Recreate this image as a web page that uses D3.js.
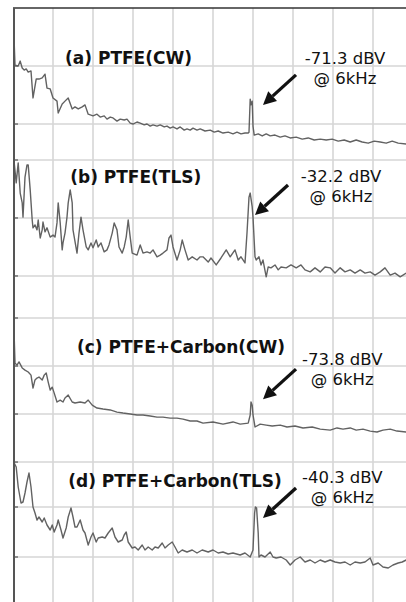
<!DOCTYPE html>
<html>
<head>
<meta charset="utf-8">
<script src="https://cdn.jsdelivr.net/npm/d3@7"></script>
<style>
  html, body { margin: 0; padding: 0; background: #fff; }
  svg { display: block; }
</style>
</head>
<body>
<div id="chart"></div>
<script>
// frequency grid (kHz) and per-panel dBV grids
const freqTicks = [1, 2, 3, 4, 5, 6, 7, 8, 9];
const panelNames = ['(a) PTFE(CW)', '(b) PTFE(TLS)', '(c) PTFE+Carbon(CW)', '(d) PTFE+Carbon(TLS)'];
const peakLabels = ['-71.3 dBV', '-32.2 dBV', '-73.8 dBV', '-40.3 dBV'];
const peakFreqLabel = '@ 6kHz';
const dbRanges = [[-40, -92.4], [-20, -74.5], [-40, -100.4], [-22.4, -78.0]];
const dbGrid = [[-60, -80], [-20, -40, -60], [-40, -60, -80, -100], [-40, -60]];
const arrowTips = [[6.25, -73.4], [6.05, -39.0], [6.25, -73.8], [6.25, -44.4]];
const noteAnchors = [[8.30, -59.3], [8.20, -27.6], [8.23, -59.6], [8.23, -30.4]];
const titleAnchors = [[1.30, -59.3], [1.43, -27.9], [1.60, -54.6], [1.38, -32.0]];

// spectra, [kHz, dBV]
const traceA = [
  [0.03,-52.1],[0.05,-59.7],[0.13,-60.0],[0.18,-58.3],[0.23,-60.7],[0.28,-61.4],[0.33,-61.0],[0.38,-62.1],
  [0.45,-61.7],[0.50,-71.0],[0.58,-64.5],[0.65,-64.5],[0.73,-64.1],[0.80,-62.8],[0.85,-67.6],[0.93,-67.9],
  [1.00,-71.0],[1.10,-72.1],[1.13,-76.2],[1.23,-73.1],[1.30,-72.1],[1.38,-71.0],[1.48,-74.8],[1.55,-74.1],
  [1.63,-74.8],[1.73,-74.1],[1.80,-73.4],[1.88,-76.6],[2.00,-77.2],[2.10,-76.6],[2.18,-77.6],[2.28,-77.2],
  [2.35,-78.3],[2.43,-77.6],[2.50,-77.9],[2.60,-79.0],[2.68,-78.3],[2.78,-78.6],[2.85,-78.3],[2.93,-79.7],
  [3.00,-80.0],[3.10,-79.3],[3.18,-79.7],[3.28,-80.3],[3.35,-80.0],[3.43,-80.7],[3.50,-80.3],[3.60,-80.7],
  [3.68,-80.3],[3.78,-81.0],[3.85,-80.7],[3.93,-81.4],[4.00,-81.0],[4.10,-81.7],[4.18,-81.0],[4.28,-82.1],
  [4.35,-81.7],[4.43,-82.1],[4.50,-81.4],[4.60,-82.1],[4.68,-81.7],[4.80,-82.4],[4.93,-82.1],[5.03,-82.8],
  [5.13,-82.4],[5.25,-83.1],[5.38,-82.8],[5.50,-83.4],[5.60,-82.8],[5.70,-83.4],[5.80,-83.1],[5.88,-83.1],
  [5.90,-82.8],[5.93,-71.4],[5.95,-73.4],[5.98,-72.1],[6.00,-80.7],[6.03,-83.8],[6.13,-83.4],[6.23,-84.1],
  [6.33,-83.4],[6.43,-84.1],[6.55,-83.8],[6.68,-84.5],[6.80,-84.1],[6.93,-84.8],[7.08,-84.5],[7.23,-85.2],
  [7.38,-84.8],[7.53,-85.5],[7.68,-85.2],[7.83,-85.5],[7.98,-85.2],[8.13,-85.9],[8.28,-85.5],[8.43,-86.2],
  [8.58,-85.5],[8.73,-86.2],[8.88,-86.6],[9.03,-85.9],[9.18,-86.2],[9.33,-86.6],[9.48,-85.9],[9.63,-86.6],
  [9.83,-86.9]
];
const traceB = [
  [0.03,-21.0],[0.08,-27.9],[0.13,-21.0],[0.18,-31.4],[0.23,-34.8],[0.25,-39.7],[0.30,-25.9],[0.35,-21.7],
  [0.38,-21.7],[0.43,-30.3],[0.48,-40.7],[0.50,-43.4],[0.55,-42.4],[0.60,-44.1],[0.63,-40.7],[0.68,-46.9],
  [0.73,-44.1],[0.75,-41.4],[0.80,-44.8],[0.85,-43.4],[0.93,-46.6],[1.00,-45.9],[1.05,-46.6],[1.10,-41.7],
  [1.13,-34.8],[1.18,-41.7],[1.23,-51.0],[1.25,-48.6],[1.30,-45.2],[1.35,-39.7],[1.38,-34.8],[1.43,-30.3],
  [1.48,-34.8],[1.50,-44.1],[1.60,-52.1],[1.65,-45.2],[1.70,-39.7],[1.75,-44.1],[1.83,-50.0],[1.88,-51.0],
  [1.95,-48.6],[2.00,-50.3],[2.08,-47.6],[2.13,-50.0],[2.20,-48.6],[2.28,-51.7],[2.35,-51.0],[2.40,-49.3],
  [2.48,-45.2],[2.53,-41.7],[2.60,-44.1],[2.65,-50.0],[2.73,-52.1],[2.78,-50.0],[2.83,-46.6],[2.88,-40.7],
  [2.93,-46.6],[2.98,-52.1],[3.10,-52.8],[3.18,-49.3],[3.25,-52.1],[3.35,-51.7],[3.43,-52.1],[3.50,-51.0],
  [3.60,-53.4],[3.68,-52.8],[3.75,-52.1],[3.85,-51.0],[3.90,-46.9],[3.95,-45.9],[4.00,-50.0],[4.10,-54.5],
  [4.18,-51.0],[4.23,-47.6],[4.30,-51.0],[4.38,-54.5],[4.48,-53.4],[4.60,-54.5],[4.68,-53.4],[4.75,-53.4],
  [4.88,-55.2],[4.95,-53.8],[5.08,-56.2],[5.20,-53.8],[5.33,-51.0],[5.43,-53.4],[5.55,-51.0],[5.63,-54.5],
  [5.70,-53.4],[5.80,-55.5],[5.85,-45.2],[5.90,-32.8],[5.93,-31.4],[5.98,-36.2],[6.00,-39.7],[6.05,-53.4],
  [6.08,-54.5],[6.15,-53.4],[6.20,-56.2],[6.25,-54.5],[6.33,-60.3],[6.38,-56.9],[6.45,-57.2],[6.55,-56.2],
  [6.63,-57.9],[6.70,-56.9],[6.83,-57.2],[6.95,-56.2],[7.08,-57.2],[7.20,-56.2],[7.30,-57.9],[7.43,-58.6],
  [7.55,-57.2],[7.68,-58.6],[7.80,-56.9],[7.93,-57.2],[8.05,-59.0],[8.18,-57.2],[8.30,-58.6],[8.43,-57.9],
  [8.55,-59.0],[8.68,-57.9],[8.80,-59.0],[8.93,-58.6],[9.05,-59.7],[9.18,-58.6],[9.30,-57.2],[9.43,-59.7],
  [9.55,-59.0],[9.68,-60.3],[9.83,-59.0]
];
const traceC = [
  [0.03,-47.9],[0.05,-58.8],[0.10,-59.6],[0.15,-58.3],[0.23,-60.8],[0.30,-61.7],[0.38,-62.5],[0.45,-63.8],
  [0.50,-69.2],[0.55,-65.8],[0.60,-65.0],[0.65,-64.6],[0.73,-65.8],[0.78,-63.8],[0.83,-62.9],[0.88,-66.7],
  [0.93,-70.0],[0.98,-68.8],[1.03,-71.3],[1.10,-75.0],[1.18,-74.2],[1.25,-75.0],[1.30,-73.3],[1.38,-72.1],
  [1.48,-75.0],[1.55,-75.4],[1.68,-75.0],[1.80,-75.4],[1.88,-74.2],[1.98,-76.3],[2.10,-77.5],[2.25,-77.9],
  [2.43,-78.3],[2.60,-79.2],[2.75,-79.6],[2.93,-80.0],[3.10,-80.4],[3.25,-80.4],[3.43,-80.8],[3.60,-81.3],
  [3.75,-81.3],[3.93,-81.7],[4.10,-81.7],[4.25,-82.1],[4.43,-82.9],[4.60,-82.9],[4.75,-83.8],[5.00,-83.3],
  [5.25,-84.2],[5.50,-83.3],[5.68,-84.2],[5.88,-83.8],[5.93,-80.4],[5.95,-75.0],[5.98,-76.3],[6.00,-80.4],
  [6.05,-85.4],[6.18,-84.2],[6.33,-84.6],[6.48,-85.0],[6.68,-84.6],[6.85,-85.4],[7.05,-85.0],[7.25,-85.8],
  [7.48,-85.4],[7.68,-86.3],[7.93,-86.7],[8.10,-85.8],[8.25,-86.3],[8.43,-85.8],[8.58,-86.7],[8.75,-86.3],
  [8.93,-87.1],[9.10,-87.5],[9.25,-86.7],[9.43,-86.3],[9.60,-87.1],[9.83,-87.5]
];
const traceD = [
  [0.03,-22.4],[0.08,-24.0],[0.13,-32.0],[0.20,-38.4],[0.25,-38.0],[0.30,-34.4],[0.35,-30.0],[0.40,-26.4],
  [0.45,-32.0],[0.50,-40.0],[0.55,-42.4],[0.60,-45.2],[0.65,-44.0],[0.73,-46.0],[0.78,-44.4],[0.85,-47.2],
  [0.93,-49.2],[0.98,-47.2],[1.03,-50.0],[1.10,-47.2],[1.13,-45.2],[1.20,-49.2],[1.25,-52.4],[1.33,-48.4],
  [1.38,-44.0],[1.45,-40.4],[1.50,-44.0],[1.55,-48.0],[1.60,-48.0],[1.68,-45.2],[1.75,-49.2],[1.80,-50.4],
  [1.88,-55.2],[1.95,-52.0],[2.00,-50.4],[2.08,-54.0],[2.13,-52.4],[2.23,-52.0],[2.30,-52.4],[2.38,-50.4],
  [2.48,-48.4],[2.55,-52.0],[2.63,-54.0],[2.73,-53.2],[2.78,-51.2],[2.83,-50.0],[2.88,-54.0],[2.98,-56.4],
  [3.05,-56.0],[3.13,-57.2],[3.23,-55.2],[3.30,-57.2],[3.38,-56.0],[3.48,-57.2],[3.55,-56.0],[3.63,-56.4],
  [3.73,-54.4],[3.80,-56.4],[3.88,-55.2],[3.98,-54.0],[4.05,-56.0],[4.13,-58.4],[4.23,-57.2],[4.35,-58.0],
  [4.48,-57.2],[4.60,-58.4],[4.73,-57.2],[4.88,-58.0],[5.00,-57.2],[5.13,-58.4],[5.25,-58.0],[5.38,-58.8],
  [5.50,-58.4],[5.68,-59.2],[5.80,-58.4],[5.93,-60.0],[6.00,-57.2],[6.04,-42.4],[6.06,-40.0],[6.09,-40.4],
  [6.13,-50.4],[6.15,-60.0],[6.20,-59.2],[6.30,-60.0],[6.43,-58.0],[6.50,-60.0],[6.58,-60.4],[6.70,-60.0],
  [6.83,-61.2],[6.93,-63.2],[7.05,-61.2],[7.18,-60.0],[7.30,-62.0],[7.43,-61.2],[7.55,-62.4],[7.68,-61.2],
  [7.80,-62.0],[7.93,-61.2],[8.05,-62.0],[8.18,-62.4],[8.30,-62.0],[8.43,-63.2],[8.55,-62.0],[8.68,-62.4],
  [8.80,-62.0],[8.93,-60.4],[9.00,-63.2],[9.13,-62.4],[9.25,-64.0],[9.38,-64.4],[9.50,-63.2],[9.63,-62.4],
  [9.73,-62.0],[9.83,-61.2]
];
const traces = [traceA, traceB, traceC, traceD];

const width = 406;
const height = 602;
const plotLeft = 13;
const plotTop = 8;
const bands = [[8, 160], [160, 318], [318, 463], [463, 602]];

const svg = d3.select('#chart')
  .append('svg')
  .attr('width', width)
  .attr('height', height);

const x = d3.scaleLinear().domain([0, 9.825]).range([plotLeft, width]);

// vertical grid
svg.append('g')
  .selectAll('line')
  .data(freqTicks)
  .join('line')
  .attr('x1', d => x(d))
  .attr('x2', d => x(d))
  .attr('y1', plotTop)
  .attr('y2', height)
  .attr('stroke', '#d6d6d6')
  .attr('stroke-width', 1.6);

const fontFamily = '"DejaVu Sans", sans-serif';

traces.forEach((trace, i) => {
  const y = d3.scaleLinear().domain(dbRanges[i]).range(bands[i]);
  const g = svg.append('g');

  g.selectAll('line.h')
    .data(dbGrid[i])
    .join('line')
    .attr('class', 'h')
    .attr('x1', plotLeft)
    .attr('x2', width)
    .attr('y1', d => y(d))
    .attr('y2', d => y(d))
    .attr('stroke', '#d6d6d6')
    .attr('stroke-width', 1.6);

  // small ticks on the left axis
  g.selectAll('line.t')
    .data(dbGrid[i])
    .join('line')
    .attr('class', 't')
    .attr('x1', plotLeft)
    .attr('x2', plotLeft + 5)
    .attr('y1', d => y(d))
    .attr('y2', d => y(d))
    .attr('stroke', '#555')
    .attr('stroke-width', 1.2);

  const line = d3.line()
    .x(d => x(d[0]))
    .y(d => y(d[1]));

  g.append('path')
    .datum(trace)
    .attr('d', line)
    .attr('fill', 'none')
    .attr('stroke', '#626262')
    .attr('stroke-width', 1.4)
    .attr('stroke-linejoin', 'round');

  g.append('text')
    .attr('x', x(titleAnchors[i][0]))
    .attr('y', y(titleAnchors[i][1]))
    .attr('font-family', fontFamily)
    .attr('font-weight', 'bold')
    .attr('font-size', 17)
    .attr('fill', '#111')
    .text(panelNames[i]);

  const nx = x(noteAnchors[i][0]);
  const ny = y(noteAnchors[i][1]);
  g.append('text')
    .attr('x', nx)
    .attr('y', ny)
    .attr('text-anchor', 'middle')
    .attr('font-family', fontFamily)
    .attr('font-size', 16.5)
    .attr('fill', '#111')
    .text(peakLabels[i]);
  g.append('text')
    .attr('x', nx)
    .attr('y', ny + 20)
    .attr('text-anchor', 'middle')
    .attr('font-family', fontFamily)
    .attr('font-size', 16.5)
    .attr('fill', '#111')
    .text(peakFreqLabel);

  // arrow pointing at the 6 kHz peak
  const tx = x(arrowTips[i][0]);
  const ty = y(arrowTips[i][1]);
  const sx = tx + 33, sy = ty - 30;
  const len = Math.hypot(sx - tx, sy - ty);
  const ux = (sx - tx) / len, uy = (sy - ty) / len;
  const headL = 13, headW = 6.5;
  const bx = tx + ux * headL, by = ty + uy * headL;
  g.append('line')
    .attr('x1', sx).attr('y1', sy)
    .attr('x2', bx).attr('y2', by)
    .attr('stroke', '#111')
    .attr('stroke-width', 3.3);
  g.append('path')
    .attr('d', `M${tx},${ty}L${bx - uy * headW},${by + ux * headW}L${bx + uy * headW},${by - ux * headW}Z`)
    .attr('fill', '#111');
});

// frame: top border and left axis
svg.append('line')
  .attr('x1', plotLeft).attr('x2', width)
  .attr('y1', plotTop).attr('y2', plotTop)
  .attr('stroke', '#333')
  .attr('stroke-width', 1.5);
svg.append('line')
  .attr('x1', plotLeft + 1).attr('x2', plotLeft + 1)
  .attr('y1', plotTop).attr('y2', height)
  .attr('stroke', '#555')
  .attr('stroke-width', 2);
</script>
</body>
</html>
